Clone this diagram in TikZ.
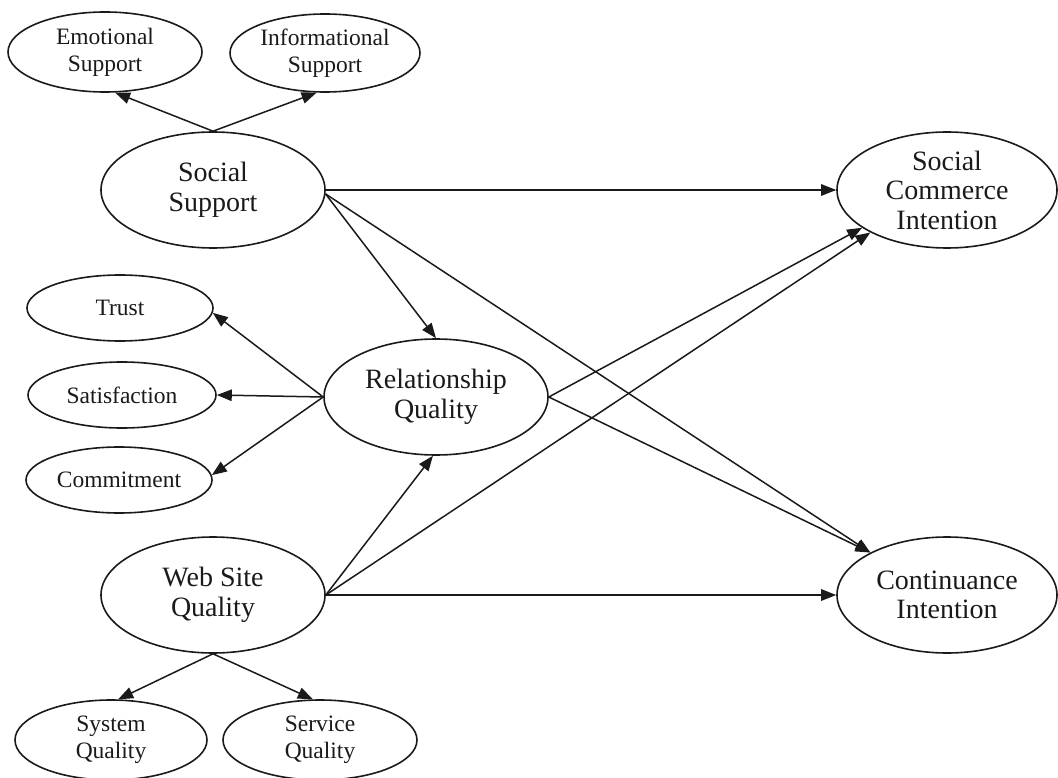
\documentclass[tikz,border=0pt]{standalone}
\usepackage{fontspec}
\setmainfont{Liberation Serif}
\usetikzlibrary{shapes.geometric,arrows.meta}
\definecolor{ink}{HTML}{1A1A1A}
\begin{document}
\begin{tikzpicture}[x=1pt,y=-1pt,
  construct/.style={ellipse,draw=ink,line width=1.6pt,inner sep=0pt,align=center,text=ink},
  bigvar/.style={construct,font=\fontsize{28}{29.5}\selectfont,minimum width=224pt,minimum height=116pt},
  smallvar/.style={construct,font=\fontsize{23.5}{27}\selectfont},
  link/.style={draw=ink,line width=1.5pt,-{Triangle[length=15pt,width=11.5pt]}}
]
\useasboundingbox (0,0) rectangle (1058,778);

% second-order constructs
\node[bigvar] (ss)  at (213,190) {Social\\Support};
\node[bigvar] (rq)  at (436,397) {Relationship\\Quality};
\node[bigvar] (wsq) at (213,595) {Web Site\\Quality};
\node[bigvar,minimum width=220pt] (sci) at (947,190) {Social\\Commerce\\Intention};
\node[bigvar,minimum width=220pt] (ci)  at (947,595) {Continuance\\Intention};

% first-order dimensions
\node[smallvar,minimum width=194pt,minimum height=80pt] (emo)   at (105,52)  {Emotional\\Support};
\node[smallvar,minimum width=190pt,minimum height=78pt] (info)  at (325,53)  {Informational\\Support};
\node[smallvar,minimum width=186pt,minimum height=66pt] (trust) at (120,308) {Trust};
\node[smallvar,minimum width=188pt,minimum height=66pt] (sat)   at (122,395) {Satisfaction};
\node[smallvar,minimum width=186pt,minimum height=66pt] (com)   at (119,480) {Commitment};
\node[smallvar,minimum width=192pt,minimum height=80pt] (sys)   at (111,740) {System\\Quality};
\node[smallvar,minimum width=194pt,minimum height=80pt] (svc)   at (320,740) {Service\\Quality};

% measurement links
\draw[link] (ss.north) -- (emo.-76);
\draw[link] (ss.north) -- (info.-102);
\draw[link] (rq.west) -- (trust.-3);
\draw[link] (rq.west) -- (sat.east);
\draw[link] (rq.west) -- (com.3);
\draw[link] (wsq.south) -- (sys.80);
\draw[link] (wsq.south) -- (svc.100);

% structural paths
\draw[link] (ss.east) -- (sci.west);
\draw[link] (ss.-2) -- (rq.north);
\draw[link] (ss.-2) -- (ci.151);
\draw[link] (rq.east) -- (sci.204);
\draw[link] (rq.east) -- (ci.151);
\draw[link] (wsq.east) -- (rq.-93);
\draw[link] (wsq.east) -- (sci.209);
\draw[link] (wsq.east) -- (ci.west);
\end{tikzpicture}
\end{document}
